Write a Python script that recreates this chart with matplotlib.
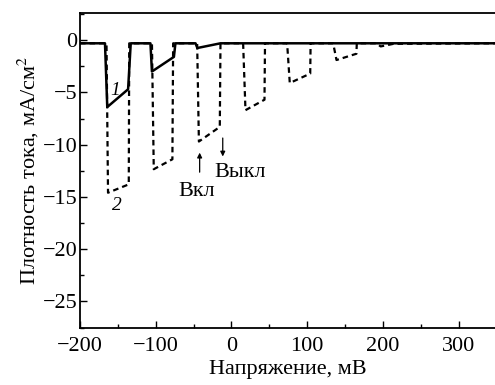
import numpy as np
import matplotlib
matplotlib.use("Agg")
import matplotlib.pyplot as plt
from matplotlib.ticker import MultipleLocator

plt.rcParams['font.family'] = ['Liberation Serif', 'DejaVu Serif']
plt.rcParams['mathtext.fontset'] = 'stix'

# curve 1 (solid)
v1 = [-200, -167, -164, -136.5, -133, -107, -105, -76, -74, -47.5, -45, -14.5, 350]
j1 = [-0.3, -0.3, -6.4, -4.7, -0.3, -0.3, -3.0, -1.6, -0.3, -0.3, -0.75, -0.3, -0.3]

# curve 2 (dashed)
v2 = [-200, -165, -163, -135.6, -135, -105, -102.6, -78, -77, -45.3, -43, -15.4, -14.5,
      15.4, 18.5, 43.6, 44.3, 73.5, 77, 104, 104.5, 134.3, 138.7, 165, 165.5,
      191.5, 197, 214, 350]
j2 = [-0.3, -0.3, -14.6, -13.8, -0.3, -0.3, -12.35, -11.4, -0.3, -0.3, -9.7, -8.3, -0.3,
      -0.3, -6.7, -5.7, -0.3, -0.3, -4.1, -3.2, -0.3, -0.3, -1.9, -1.3, -0.3,
      -0.3, -0.6, -0.35, -0.3]

FS = 16

fig = plt.figure(figsize=(4.95, 3.85), dpi=100)
ax = fig.add_axes([80/495, (385-327.5)/385, (495-80)/495, (327.5-13)/385])

ax.plot(v2, j2, color='black', lw=1.6, linestyle=(0, (2.5, 1.8)))
ax.plot(v1, j1, color='black', lw=1.8)

ax.set_xlim(-200, 348)
ax.set_ylim(-27.5, 2.6)
ax.xaxis.set_major_locator(MultipleLocator(100))
ax.xaxis.set_minor_locator(MultipleLocator(50))
ax.yaxis.set_major_locator(MultipleLocator(5))
ax.yaxis.set_minor_locator(MultipleLocator(2.5))
ax.tick_params(which='both', direction='in', labelsize=FS, width=1.0)
ax.tick_params(which='major', length=5)
ax.tick_params(which='minor', length=3)
ax.tick_params(axis='y', which='major', pad=2)
ax.tick_params(axis='x', which='major', pad=7)
ax.spines['right'].set_visible(False)
for s in ['left', 'bottom', 'top']:
    ax.spines[s].set_linewidth(1.3)

ax.set_xlabel('Напряжение, мВ', fontsize=FS, labelpad=3)
ax.set_ylabel('Плотность тока, мА/см$^2$', fontsize=FS, labelpad=1)

ax.text(-153, -4.8, '1', fontsize=14, style='italic', ha='center', va='center')
ax.text(-151, -15.8, '2', fontsize=14, style='italic', ha='center', va='center')

ax.annotate('', xy=(-42, -10.5), xytext=(-42, -12.9),
            arrowprops=dict(arrowstyle='-|>', color='black', lw=0.9, mutation_scale=7))
ax.annotate('', xy=(-11.5, -11.4), xytext=(-11.5, -9.1),
            arrowprops=dict(arrowstyle='-|>', color='black', lw=0.9, mutation_scale=7))
ax.text(-46, -14.5, 'Вкл', fontsize=FS, ha='center', va='center')
ax.text(12, -12.7, 'Выкл', fontsize=FS, ha='center', va='center')

fig.savefig('out.png', dpi=100)
